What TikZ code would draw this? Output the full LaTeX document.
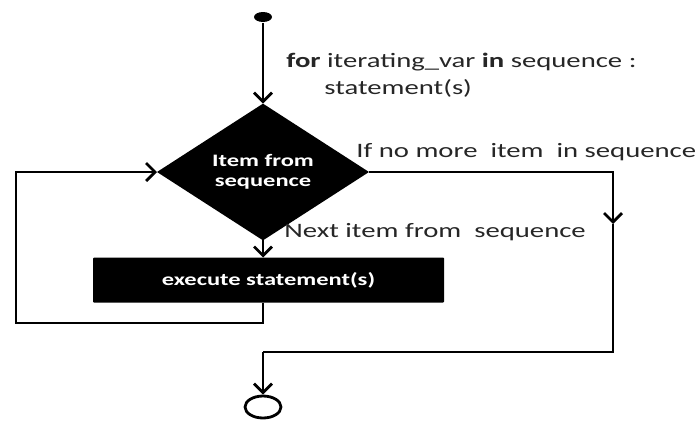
\documentclass[tikz,border=0pt]{standalone}
\usepackage{fontspec}
\newfontfamily\flowfont[FakeStretch=1.4]{Carlito}
\usetikzlibrary{shapes.geometric,arrows.meta}
\definecolor{txtgray}{HTML}{262626}
\begin{document}
\begin{tikzpicture} [x=1pt, y=-1pt, line width=2.8pt]
\tikzstyle{flow}=[-{Straight Barb[length=9pt,width=18pt]}];
\tikzstyle{lbl}=[anchor=west, inner sep=0pt, text=txtgray, font=\flowfont\fontsize{20.5}{24}\selectfont];
\tikzstyle{inblack}=[fill=black, text=white, inner sep=0pt, outer sep=0pt, font=\flowfont\bfseries\fontsize{17.5}{20}\selectfont];
\useasboundingbox (0,0) rectangle (698,423);
% nodes
\node [draw=none, fill=black, shape=ellipse, minimum width=18pt, minimum height=10pt, inner sep=0pt] (start) at (263, 17) {};
\node [inblack, shape=diamond, minimum width=212pt, minimum height=98pt, align=center] (decide) at (263, 172) {Item from\\sequence};
\node [inblack, shape=rectangle, rounded corners=1pt, minimum width=351pt, minimum height=45pt] (body) at (268.5, 280) {execute statement(s)\hspace{27pt}};
\node [draw, shape=ellipse, minimum width=36pt, minimum height=22pt, inner sep=0pt] (stop) at (263, 407) {};
\node [lbl] (forline) at (285, 62) {\textbf{for} iterating\_var \textbf{in} sequence :};
\node [lbl] (stmtline) at (323, 88) {statement(s)};
\node [lbl] (nomore) at (355, 152) {If no more\ \ item\ \ in sequence};
\node [lbl] (nextitem) at (283, 232) {Next item from\ \ sequence};
% corners
\coordinate (rmid) at (613, 224);
\coordinate (join) at (263, 352);
\coordinate (lb) at (16, 323);
\draw [flow] (start) -- (decide.north);
\draw [flow] (decide.south) -- (decide.south |- body.north);
\draw [flow] (decide.east) -| (rmid);
\draw (rmid) |- (join);
\draw [flow] (join) -- (stop.north);
\draw [flow] (decide.south |- body.south) |- (lb) |- (decide.west);
\end{tikzpicture}
\end{document}
